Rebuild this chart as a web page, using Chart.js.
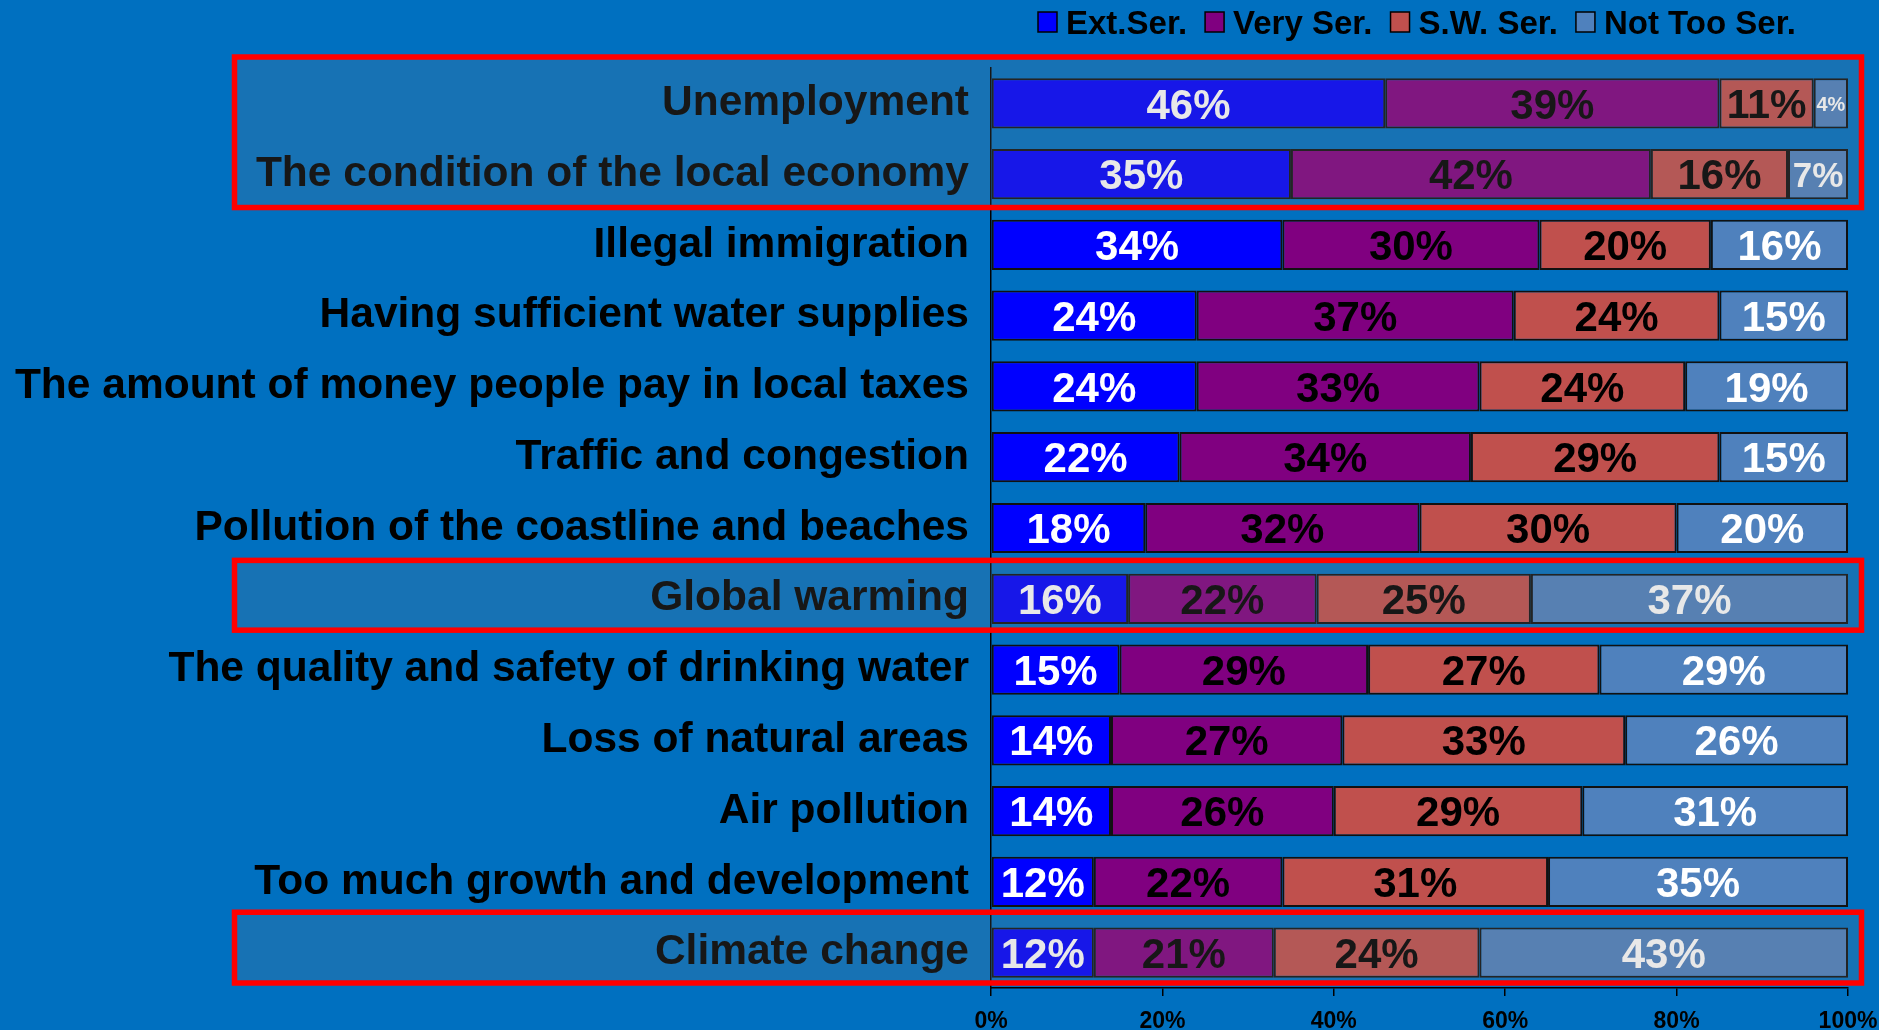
<!DOCTYPE html>
<html>
<head>
<meta charset="utf-8">
<script src="https://cdn.jsdelivr.net/npm/chart.js@4.4.1/dist/chart.umd.min.js"></script>
<style>
html,body{margin:0;padding:0;background:#0070C0;overflow:hidden}
canvas{display:block}
</style>
</head>
<body>
<canvas id="chart" width="1879" height="1030"></canvas>
<script>
/* ========= DATA ========= */

const categories=[
 "Unemployment",
 "The condition of the local economy",
 "Illegal immigration",
 "Having sufficient water supplies",
 "The amount of money people pay in local taxes",
 "Traffic and congestion",
 "Pollution of the coastline and beaches",
 "Global warming",
 "The quality and safety of drinking water",
 "Loss of natural areas",
 "Air pollution",
 "Too much growth and development",
 "Climate change"
]
const extSer   =[46,35,34,24,24,22,18,16,15,14,14,12,12]
const verySer  =[39,42,30,37,33,34,32,22,29,27,26,22,21]
const swSer    =[11,16,20,24,24,29,30,25,27,33,29,31,24]
const notTooSer=[ 4, 7,16,15,19,15,20,37,29,26,31,35,43]
const seriesNames=["Ext.Ser.","Very Ser.","S.W. Ser.","Not Too Ser."]
const xTicks=[0,20,40,60,80,100]
// rows framed in red (first,last)
const highlightRows=[[0,1],[7,7],[12,12]]

/* ========= STYLE ========= */

const FONT="'Liberation Sans', Arial, Helvetica, sans-serif"
const fills=["#0000FF","#800080","#C0504D","#4F81BD"]
const labelColors=["#FFFFFF","#000000","#000000","#FFFFFF"]

/* ========= PLUGIN: bg, value labels, legend, frames ========= */

const extras={
 id:"extras",
 beforeDraw(c){
  const ctx=c.ctx
  ctx.save()
  ctx.fillStyle="#0070C0"
  ctx.fillRect(0,0,c.width,c.height)
  ctx.restore()
 },
 afterDatasetsDraw(c){
  const ctx=c.ctx
  ctx.save()
  ctx.textAlign="center"
  ctx.textBaseline="alphabetic"
  c.data.datasets.forEach((ds,di)=>{
   c.getDatasetMeta(di).data.forEach((bar,i)=>{
    const txt=ds.data[i]+"%"
    const w=Math.abs(bar.x-bar.base)
    let size=42
    ctx.font=`bold ${size}px ${FONT}`
    const tw=ctx.measureText(txt).width
    if(tw>w*0.85) size=Math.floor(size*w*0.85/tw)
    ctx.font=`bold ${size}px ${FONT}`
    ctx.fillStyle=labelColors[di]
    ctx.fillText(txt,(bar.x+bar.base)/2,bar.y+size*0.36)
   })
  })
  ctx.restore()
 },
 afterDraw(c){
  const ctx=c.ctx
  ctx.save()

  // legend
  let x=1038
  ctx.font=`bold 33px ${FONT}`
  ctx.textAlign="left"
  ctx.textBaseline="alphabetic"
  c.data.datasets.forEach((ds,i)=>{
   ctx.fillStyle=ds.backgroundColor
   ctx.fillRect(x,12,19,20)
   ctx.strokeStyle="#000"
   ctx.lineWidth=1.5
   ctx.strokeRect(x,12,19,20)
   ctx.fillStyle="#000"
   ctx.fillText(ds.label,x+28,34)
   x+=28+ctx.measureText(ds.label).width+18
  })

  // highlight frames
  const ys=c.scales.y
  const band=ys.getPixelForValue(1)-ys.getPixelForValue(0)
  const padTop=[11,3,5], padBot=[2,4,5]
  const left=234.5, right=c.chartArea.right+13.5
  highlightRows.forEach(([a,b],k)=>{
   const top=ys.getPixelForValue(a)-band/2-padTop[k]
   const bot=ys.getPixelForValue(b)+band/2-padBot[k]
   ctx.fillStyle="rgba(128,128,128,0.18)"
   ctx.fillRect(left,top,right-left,bot-top)
   ctx.strokeStyle="#FF0000"
   ctx.lineWidth=5.5
   ctx.strokeRect(left,top,right-left,bot-top)
  })
  ctx.restore()
 }
}

/* ========= CHART ========= */

const series=[extSer,verySer,swSer,notTooSer]

new Chart(document.getElementById("chart"),{
 type:"bar",
 data:{
  labels:categories,
  datasets:series.map((d,i)=>({
   label:seriesNames[i],
   data:d,
   backgroundColor:fills[i],
   borderColor:"#111",
   borderWidth:2,
   borderSkipped:false,
   barPercentage:0.71,
   categoryPercentage:1
  }))
 },
 options:{
  indexAxis:"y",
  responsive:false,
  animation:false,
  layout:{padding:{top:68,right:31,left:0,bottom:0}},
  plugins:{legend:{display:false},tooltip:{enabled:false}},
  scales:{
   x:{
    stacked:true,min:0,max:100,
    afterBuildTicks:s=>{s.ticks=xTicks.map(v=>({value:v}))},
    afterFit:s=>{s.height=42;s.paddingLeft=0;s.paddingRight=0},
    ticks:{callback:v=>v+"%",color:"#000",padding:12,font:{family:FONT,size:23,weight:"bold"},maxRotation:0},
    grid:{drawOnChartArea:false,drawTicks:true,tickLength:8,color:"#000",lineWidth:1.5},
    border:{color:"#000",width:1.5}
   },
   y:{
    stacked:true,
    afterFit:s=>{s.width=991},
    ticks:{color:"#000",padding:14,autoSkip:false,font:{family:FONT,size:42.5,weight:"bold"}},
    grid:{display:false},
    border:{display:true,color:"#000",width:1.5}
   }
  }
 },
 plugins:[extras]
})
</script>
</body>
</html>
